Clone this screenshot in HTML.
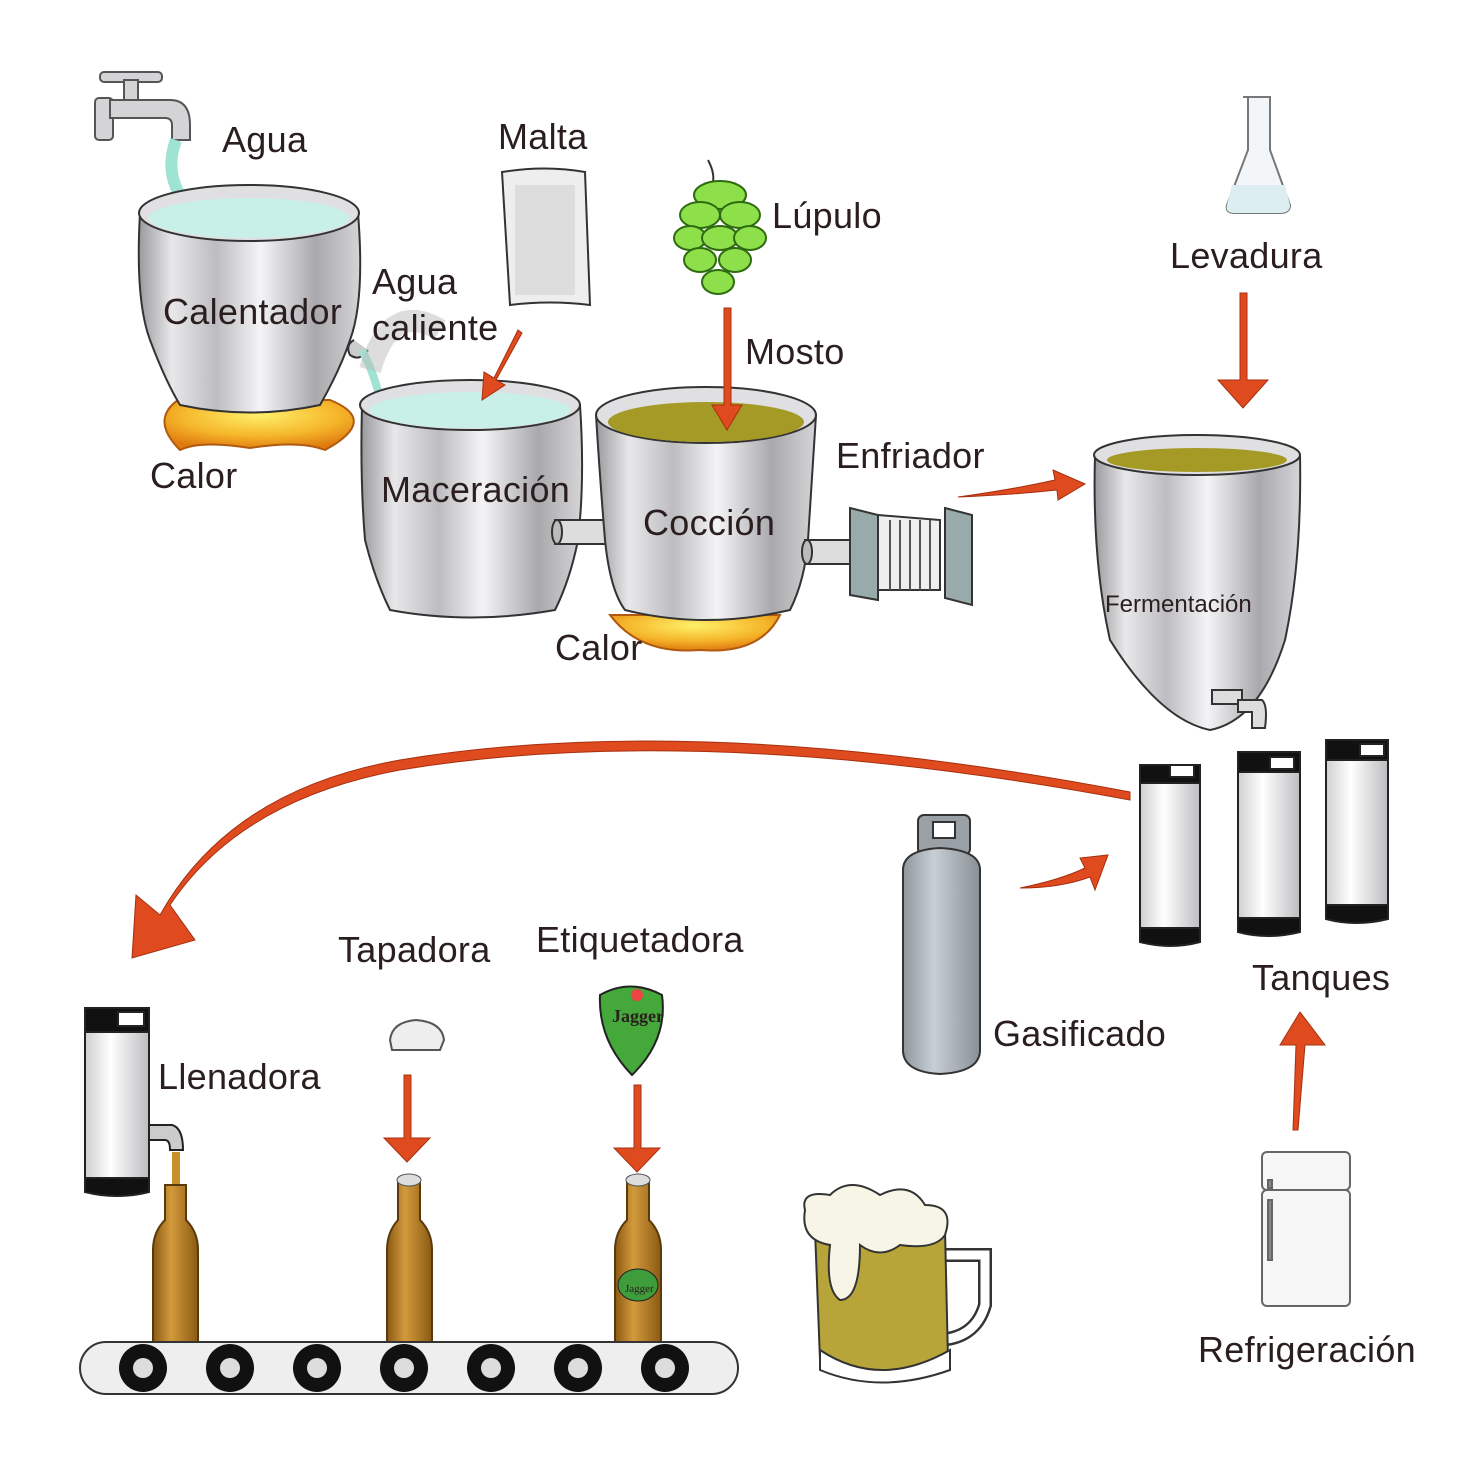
<!DOCTYPE html>
<html><head><meta charset="utf-8"><style>
html,body{margin:0;padding:0;background:#fff}
svg{display:block}
text{font-family:"Liberation Sans",sans-serif;fill:#2a1e1e;font-size:36px;letter-spacing:0.3px}
</style></head><body>
<svg width="1464" height="1464" viewBox="0 0 1464 1464" xmlns="http://www.w3.org/2000/svg">
<defs>
<linearGradient id="steel" x1="0" x2="1" y1="0" y2="0">
<stop offset="0" stop-color="#9a9a9e"/><stop offset="0.15" stop-color="#e8e8ea"/><stop offset="0.35" stop-color="#bdbdc1"/><stop offset="0.55" stop-color="#f4f4f6"/><stop offset="0.8" stop-color="#a9a9ad"/><stop offset="1" stop-color="#d5d5d8"/>
</linearGradient>
<linearGradient id="cyl" x1="0" x2="1"><stop offset="0" stop-color="#8f969c"/><stop offset="0.4" stop-color="#c8cfd4"/><stop offset="1" stop-color="#8a9196"/></linearGradient>
<linearGradient id="keg" x1="0" x2="1"><stop offset="0" stop-color="#cfcfd2"/><stop offset="0.4" stop-color="#fff"/><stop offset="1" stop-color="#bdbdc0"/></linearGradient>
<linearGradient id="bottle" x1="0" x2="1"><stop offset="0" stop-color="#8a5a14"/><stop offset="0.4" stop-color="#d39a3c"/><stop offset="1" stop-color="#8a5a14"/></linearGradient>
<radialGradient id="flame" cx="0.5" cy="0.3" r="0.7"><stop offset="0" stop-color="#fff06a"/><stop offset="0.6" stop-color="#f5b62a"/><stop offset="1" stop-color="#e07a10"/></radialGradient>
<g id="wheel"><circle r="24" fill="#111"/><circle r="10" fill="#ddd"/></g>
</defs>

<!-- Faucet -->
<g stroke="#555" stroke-width="2" fill="#d4d4d6">
<rect x="100" y="72" width="62" height="10" rx="4"/>
<rect x="124" y="80" width="14" height="20"/>
<rect x="95" y="98" width="18" height="42" rx="4"/>
<path d="M110 100 H170 Q190 100 190 125 V140 H172 V125 Q172 118 165 118 H110 Z"/>
</g>
<path d="M176 140 Q165 170 180 195 Q190 215 180 230" stroke="#9fe3d3" stroke-width="12" fill="none"/>

<!-- Calentador -->
<path d="M330 400 Q380 420 325 450 Q300 440 250 448 Q200 440 180 450 Q150 420 178 400 Z" fill="url(#flame)" stroke="#b05a10" stroke-width="2"/>
<path d="M140 213 Q135 300 150 340 Q165 380 180 405 Q250 420 320 405 Q340 370 350 340 Q365 300 358 213 Z" fill="url(#steel)" stroke="#333" stroke-width="2"/>
<ellipse cx="249" cy="213" rx="110" ry="28" fill="#e0e0e2" stroke="#333" stroke-width="2"/>
<ellipse cx="249" cy="218" rx="100" ry="20" fill="#c8f0e8"/>
<path d="M354 340 Q345 345 350 355 Q360 362 368 350" fill="#ccc" stroke="#333" stroke-width="2"/>
<path d="M362 350 Q375 375 380 400" stroke="#9fe3d3" stroke-width="8" fill="none"/>

<!-- steam -->
<path d="M370 370 Q390 300 440 330" stroke="#bbb" stroke-width="22" fill="none" opacity="0.5"/>

<!-- Malta -->
<path d="M502 172 Q545 165 585 172 L590 305 Q550 300 510 305 Z" fill="#eee" stroke="#333" stroke-width="2"/>
<rect x="515" y="185" width="60" height="110" fill="#ccc" opacity="0.5"/>

<!-- Hop -->
<path d="M708 160 Q716 175 712 185" stroke="#333" stroke-width="2" fill="none"/>
<g fill="#8ee04a" stroke="#2e6b10" stroke-width="2">
<ellipse cx="720" cy="195" rx="26" ry="14"/>
<ellipse cx="700" cy="215" rx="20" ry="13"/><ellipse cx="740" cy="215" rx="20" ry="13"/>
<ellipse cx="690" cy="238" rx="16" ry="12"/><ellipse cx="720" cy="238" rx="18" ry="12"/><ellipse cx="750" cy="238" rx="16" ry="12"/>
<ellipse cx="700" cy="260" rx="16" ry="12"/><ellipse cx="735" cy="260" rx="16" ry="12"/>
<ellipse cx="718" cy="282" rx="16" ry="12"/>
</g>

<!-- Maceración -->
<path d="M362 405 Q360 480 365 540 Q375 580 390 610 Q470 625 555 610 Q570 580 578 540 Q585 480 580 405 Z" fill="url(#steel)" stroke="#333" stroke-width="2"/>
<ellipse cx="470" cy="405" rx="110" ry="25" fill="#e0e0e2" stroke="#333" stroke-width="2"/>
<ellipse cx="470" cy="410" rx="100" ry="18" fill="#c8f0e8"/>
<rect x="555" y="520" width="58" height="24" fill="#ddd" stroke="#333" stroke-width="2"/>
<ellipse cx="557" cy="532" rx="5" ry="12" fill="#bbb" stroke="#333" stroke-width="2"/>

<!-- Cocción -->
<path d="M610 615 Q640 655 700 650 Q760 655 780 615 Z" fill="url(#flame)" stroke="#b05a10" stroke-width="2"/>
<path d="M596 415 Q600 480 605 540 Q610 590 625 610 Q705 630 790 610 Q805 580 808 540 Q812 480 816 415 Z" fill="url(#steel)" stroke="#333" stroke-width="2"/>
<ellipse cx="706" cy="415" rx="110" ry="28" fill="#e0e0e2" stroke="#333" stroke-width="2"/>
<ellipse cx="706" cy="422" rx="98" ry="20" fill="#a59a26"/>
<rect x="805" y="540" width="50" height="24" fill="#ddd" stroke="#333" stroke-width="2"/>
<ellipse cx="807" cy="552" rx="5" ry="12" fill="#bbb" stroke="#333" stroke-width="2"/>

<!-- Enfriador -->
<g stroke="#333" stroke-width="2">
<path d="M850 508 L878 515 V600 L850 595 Z" fill="#9aa"/>
<path d="M878 515 L940 520 V590 L878 590 Z" fill="#eee"/>
<path d="M945 508 L972 515 V605 L945 598 Z" fill="#9aa"/>
</g>
<g stroke="#555" stroke-width="2"><path d="M890 520V590M900 520V590M910 520V590M920 520V590M930 520V590"/></g>

<!-- Flask -->
<path d="M1243 97 H1270 V150 L1290 205 Q1290 213 1280 213 H1235 Q1225 213 1227 205 L1248 150 V97 Z" fill="#f2f6f8" stroke="#777" stroke-width="2"/>
<path d="M1232 185 L1285 185 L1290 205 Q1290 213 1280 213 H1235 Q1225 213 1227 205 Z" fill="#ddeef2"/>

<!-- Fermentación -->
<path d="M1095 455 Q1092 560 1110 640 Q1160 720 1210 730 Q1260 720 1285 640 Q1302 560 1300 455 Z" fill="url(#steel)" stroke="#333" stroke-width="2"/>
<ellipse cx="1197" cy="455" rx="103" ry="20" fill="#e0e0e2" stroke="#333" stroke-width="2"/>
<ellipse cx="1197" cy="460" rx="90" ry="12" fill="#a59a26"/>
<g fill="#ddd" stroke="#333" stroke-width="2">
<rect x="1212" y="690" width="30" height="14"/><path d="M1238 700 H1262 Q1268 705 1265 728 H1252 V712 H1238 Z"/>
</g>

<!-- Kegs -->
<g stroke="#222" stroke-width="2">
<g><rect x="1140" y="775" width="60" height="160" fill="url(#keg)"/><path d="M1140 765 h60 v18 h-60z M1140 928 h60 v14 Q1170 950 1140 942z" fill="#111"/><rect x="1170" y="765" width="24" height="12" fill="#fff"/></g>
<g><rect x="1238" y="765" width="62" height="160" fill="url(#keg)"/><path d="M1238 752 h62 v20 h-62z M1238 918 h62 v14 Q1268 940 1238 932z" fill="#111"/><rect x="1270" y="757" width="24" height="12" fill="#fff"/></g>
<g><rect x="1326" y="752" width="62" height="160" fill="url(#keg)"/><path d="M1326 740 h62 v20 h-62z M1326 905 h62 v14 Q1356 927 1326 919z" fill="#111"/><rect x="1360" y="744" width="24" height="12" fill="#fff"/></g>
</g>

<!-- Gas cylinder -->
<g stroke="#333" stroke-width="2">
<rect x="918" y="815" width="52" height="40" rx="6" fill="#9aa1a6"/>
<rect x="933" y="822" width="22" height="16" fill="#fff"/>
<path d="M903 870 Q903 850 940 848 Q980 850 980 870 V1050 Q980 1072 940 1074 Q903 1072 903 1050 Z" fill="url(#cyl)"/>
</g>

<!-- Fridge -->
<g stroke="#666" stroke-width="2" fill="#f6f6f6">
<rect x="1262" y="1152" width="88" height="38" rx="5"/>
<rect x="1262" y="1190" width="88" height="116" rx="5"/>
<rect x="1268" y="1180" width="4" height="8" fill="#888"/><rect x="1268" y="1200" width="4" height="60" fill="#888"/>
</g>

<!-- Llenadora keg -->
<g stroke="#222" stroke-width="2">
<rect x="85" y="1025" width="64" height="160" fill="url(#keg)"/>
<path d="M85 1008 h64 v24 h-64z M85 1178 h64 v14 Q117 1200 85 1192z" fill="#111"/>
<rect x="118" y="1012" width="26" height="14" fill="#fff"/>
<path d="M149 1125 H172 Q183 1128 183 1150 H170 Q170 1140 165 1140 H149 Z" fill="#ccc"/>
</g>
<path d="M176 1152 V1190" stroke="#c88e2c" stroke-width="8"/>

<!-- Bottles -->
<g stroke="#5a3a0a" stroke-width="2" fill="url(#bottle)">
<path d="M165 1185 H186 V1220 Q198 1232 198 1250 V1345 H153 V1250 Q153 1232 165 1220 Z"/>
<path d="M398 1180 H420 V1220 Q432 1232 432 1250 V1345 H387 V1250 Q387 1232 398 1220 Z"/>
<path d="M627 1180 H649 V1220 Q661 1232 661 1250 V1345 H615 V1250 Q615 1232 627 1220 Z"/>
</g>
<ellipse cx="409" cy="1180" rx="12" ry="6" fill="#ddd" stroke="#555"/>
<ellipse cx="638" cy="1180" rx="12" ry="6" fill="#ddd" stroke="#555"/>
<ellipse cx="638" cy="1285" rx="20" ry="16" fill="#3f9c3a" stroke="#222"/>
<text x="625" y="1292" style="font-size:11px;font-family:'Liberation Serif',serif;letter-spacing:0">Jagger</text>

<!-- Cap -->
<path d="M390 1040 Q392 1022 416 1020 Q442 1022 444 1040 L440 1050 H392 Z" fill="#eee" stroke="#555" stroke-width="2"/>
<!-- Label -->
<path d="M600 995 Q630 978 662 995 Q668 1040 632 1075 Q598 1040 600 995 Z" fill="#45a83a" stroke="#222" stroke-width="2"/>
<circle cx="637" cy="995" r="6" fill="#e44"/>
<text x="612" y="1022" style="font-size:18px;font-family:'Liberation Serif',serif;font-weight:bold;letter-spacing:0">Jagger</text>

<!-- Conveyor -->
<rect x="80" y="1342" width="658" height="52" rx="26" fill="#eee" stroke="#333" stroke-width="2"/>
<use href="#wheel" x="143" y="1368"/><use href="#wheel" x="230" y="1368"/><use href="#wheel" x="317" y="1368"/><use href="#wheel" x="404" y="1368"/><use href="#wheel" x="491" y="1368"/><use href="#wheel" x="578" y="1368"/><use href="#wheel" x="665" y="1368"/>

<!-- Mug -->
<path d="M935 1255 H985 V1305 Q975 1340 935 1340" fill="none" stroke="#333" stroke-width="14"/>
<path d="M935 1255 H985 V1305 Q975 1340 935 1340" fill="none" stroke="#fff" stroke-width="9"/>
<path d="M815 1230 H945 L948 1360 Q880 1385 820 1360 Z" fill="#b8a53a" stroke="#333" stroke-width="2"/>
<path d="M820 1350 Q880 1390 950 1350 L950 1370 Q880 1395 820 1370 Z" fill="#fff" stroke="#333" stroke-width="2"/>
<path d="M805 1210 Q800 1190 830 1195 Q850 1175 880 1195 Q910 1180 925 1205 Q955 1205 945 1235 Q935 1250 900 1245 Q880 1260 860 1245 Q860 1300 840 1300 Q825 1290 830 1245 Q800 1240 805 1210 Z" fill="#f7f5e6" stroke="#333" stroke-width="2"/>

<!-- Arrows -->
<g fill="#e04a1f" stroke="#a53010" stroke-width="1">
<path d="M518 330 L494 378 L484 372 L482 400 L505 385 L496 380 L522 333 Z"/>
<path d="M724 308 H731 V405 H742 L727 430 L712 405 H724 Z"/>
<path d="M958 497 Q1010 490 1055 480 L1053 470 L1085 484 L1058 500 L1057 490 Q1010 495 958 497 Z"/>
<path d="M1240 293 H1247 V380 H1268 L1243 408 L1218 380 H1240 Z"/>
<path d="M1020 888 Q1060 880 1085 868 L1080 858 L1108 855 L1095 890 L1090 877 Q1060 888 1020 888 Z"/>
<path d="M1293 1130 L1296 1045 L1280 1045 L1300 1012 L1325 1045 L1305 1045 L1298 1130 Z"/>
<path d="M404 1075 H411 V1138 H430 L407 1162 L384 1138 H404 Z"/>
<path d="M634 1085 H641 V1148 H660 L637 1172 L614 1148 H634 Z"/>
<path d="M1130 800 Q700 720 400 770 Q240 800 170 905 L195 940 L132 958 L136 895 L160 915 Q230 790 400 760 Q700 710 1130 792 Z"/>
</g>

<!-- Labels -->
<text x="222" y="152">Agua</text>
<text x="498" y="149">Malta</text>
<text x="772" y="228">Lúpulo</text>
<text x="372" y="294">Agua</text>
<text x="372" y="340">caliente</text>
<text x="163" y="324">Calentador</text>
<text x="745" y="364">Mosto</text>
<text x="150" y="488">Calor</text>
<text x="381" y="502">Maceración</text>
<text x="643" y="535">Cocción</text>
<text x="836" y="468">Enfriador</text>
<text x="555" y="660">Calor</text>
<text x="1170" y="268">Levadura</text>
<text x="1105" y="612" style="font-size:24px;letter-spacing:0">Fermentación</text>
<text x="1252" y="990">Tanques</text>
<text x="993" y="1046">Gasificado</text>
<text x="1198" y="1362">Refrigeración</text>
<text x="338" y="962">Tapadora</text>
<text x="536" y="952">Etiquetadora</text>
<text x="158" y="1089">Llenadora</text>
</svg>
</body></html>
